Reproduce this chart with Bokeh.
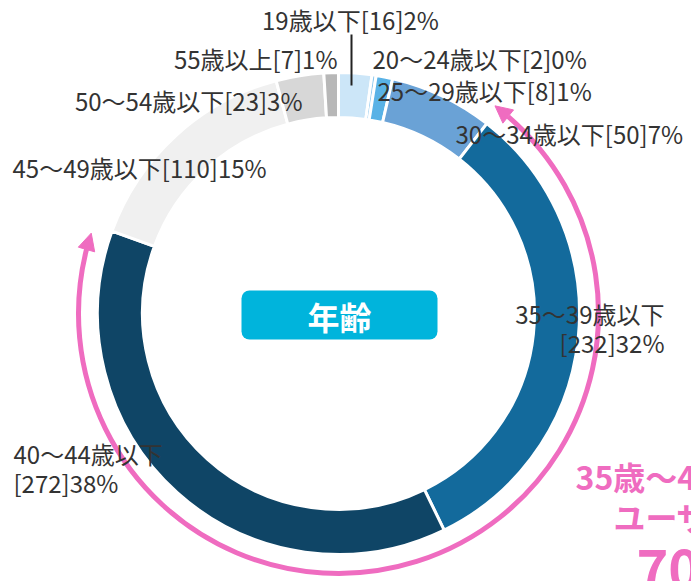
import math
from bokeh.plotting import figure
from bokeh.models import Range1d, Arrow, NormalHead
from bokeh.core.properties import value
from bokeh.embed import file_html
from bokeh.resources import INLINE

W, H = 691, 581

categories = ["19歳以下", "20～24歳以下", "25～29歳以下", "30～34歳以下", "35～39歳以下",
              "40～44歳以下", "45～49歳以下", "50～54歳以下", "55歳以上"]
counts = [16, 2, 8, 50, 232, 272, 110, 23, 7]
colors = ["#cce6f8", "#8ec9ef", "#59b2e6", "#6aa2d6", "#136a9c",
          "#0f4566", "#f0f0f0", "#d7d7d7", "#b7b7b7"]
center_title = "年齢"
callout = ["35歳～44歳の", "ユーザーが", "70%"]

total = sum(counts)
FONT = "Noto Sans CJK JP"

p = figure(width=W, height=H, x_range=Range1d(0, W), y_range=Range1d(0, H),
           output_backend="svg", toolbar_location=None, min_border=0)
p.axis.visible = False
p.grid.visible = False
p.outline_line_color = None
p.background_fill_color = "white"

cx, cy = 338, H - 313
r_in, r_out = 196, 241

starts, ends = [], []
cum = 0
for c in counts:
    starts.append(math.pi / 2 - cum / total * 2 * math.pi)
    cum += c
    ends.append(math.pi / 2 - cum / total * 2 * math.pi)

p.annular_wedge(x=cx, y=cy, inner_radius=r_in, outer_radius=r_out,
                start_angle=starts, end_angle=ends, direction="clock",
                fill_color=colors, line_color="white", line_width=3)

# pink arc with arrowheads
PINK = "#ef6cc0"
rp = 260
tip1 = math.radians(53)
tip2 = math.radians(162)
head = 17
d = head / rp
a1 = tip1 - d
a2 = tip2 + d
p.arc(x=cx, y=cy, radius=rp, start_angle=a1, end_angle=a2, direction="clock",
      line_color=PINK, line_width=5)
for base, tip in ((a1, tip1), (a2, tip2)):
    p.add_layout(Arrow(end=NormalHead(size=head, fill_color=PINK, line_color=PINK),
                       x_start=cx + rp * math.cos(base), y_start=cy + rp * math.sin(base),
                       x_end=cx + rp * math.cos(tip), y_end=cy + rp * math.sin(tip),
                       line_color=PINK, line_width=5))

# labels
def lab(i):
    pct = round(counts[i] / total * 100)
    return f"{categories[i]}[{counts[i]}]{pct}%"

TXT = "#333333"
FS = "24px"
single = [
    (0, 350, 19, "center"),
    (1, 372, 58, "left"),
    (2, 377, 90, "left"),
    (3, 455, 133, "left"),
    (6, 12, 167, "left"),
    (7, 302, 100, "right"),
    (8, 337, 58, "right"),
]
for i, x, y, al in single:
    p.text(x=[x], y=[H - y], text=[lab(i)], text_align=al, text_baseline="middle",
           text_font=value(FONT), text_font_size=FS, text_color=TXT)

for i, x, y, al in ((4, 664, 313, "right"), (5, 13, 453, "left")):
    pct = round(counts[i] / total * 100)
    p.text(x=[x], y=[H - y], text=[categories[i]], text_align=al, text_baseline="middle",
           text_font=value(FONT), text_font_size=FS, text_color=TXT)
    p.text(x=[x], y=[H - y - 29], text=[f"[{counts[i]}]{pct}%"], text_align=al,
           text_baseline="middle", text_font=value(FONT), text_font_size=FS, text_color=TXT)

# leader line for 19歳以下
p.segment(x0=[351], y0=[H - 34], x1=[351], y1=[H - 85], line_color="#222222", line_width=2)

# center badge
p.quad(left=[241], right=[437], bottom=[H - 339], top=[H - 290],
       fill_color="#00b4dc", line_color=None, border_radius=8)
p.text(x=[339], y=[H - 315], text=[center_title], text_align="center", text_baseline="middle",
       text_font=value(FONT), text_font_size="32px", text_font_style="bold", text_color="white")

# callout
p.text(x=[575], y=[H - 475], text=[callout[0]], text_align="left", text_baseline="middle",
       text_font=value(FONT), text_font_size="32px", text_font_style="bold", text_color=PINK)
p.text(x=[613], y=[H - 515], text=[callout[1]], text_align="left", text_baseline="middle",
       text_font=value(FONT), text_font_size="32px", text_font_style="bold", text_color=PINK)
p.text(x=[636], y=[H - 565], text=[callout[2]], text_align="left", text_baseline="middle",
       text_font=value(FONT), text_font_size="54px", text_font_style="bold", text_color=PINK)

open("out.html", "w").write(file_html(p, INLINE))
